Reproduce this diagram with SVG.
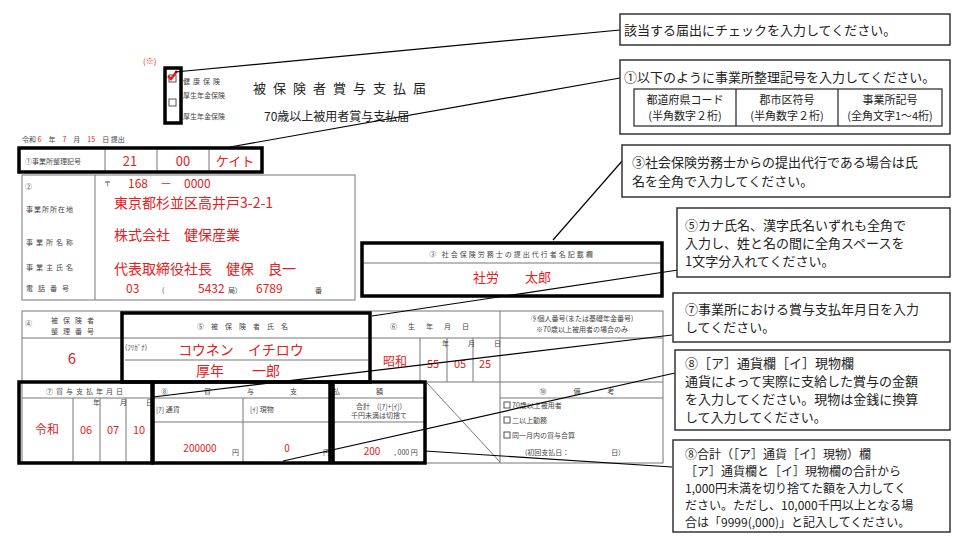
<svg xmlns="http://www.w3.org/2000/svg" width="960" height="540" viewBox="0 0 960 540">
<style>
text{font-family:"Noto Sans CJK JP","Liberation Sans",sans-serif;fill:#222}
.s{font-size:7px;fill:#444}
.r{fill:#e62020}
.c{font-size:13px}
.thin{fill:none;stroke:#777;stroke-width:1}
.thick{fill:none;stroke:#000;stroke-width:3.5}
.box{fill:#fff;stroke:#333;stroke-width:1.5}
.ln{stroke:#000;stroke-width:1.2;fill:none}
.cb{fill:#fff;stroke:#555;stroke-width:1}
</style>
<rect width="960" height="540" fill="#fff"/>
<g id="header">
<text x="143" y="64" class="r" font-size="8">(※)</text>
<rect x="165" y="68" width="16" height="55" class="thick"/>
<rect x="169" y="75" width="7" height="7" class="cb"/>
<rect x="169" y="99" width="7" height="7" class="cb"/>
<path d="M168 76 l3 3 l6 -8" stroke="#e62020" stroke-width="2.5" fill="none"/>
<text x="183" y="84" class="s" font-size="8" letter-spacing="3">健康保険</text>
<text x="183" y="98" class="s" font-size="8">厚生年金保険</text>
<text x="183" y="119" class="s" font-size="8">厚生年金保険</text>
<text x="253" y="93" font-size="13" letter-spacing="7">被保険者賞与支払届</text>
<text x="264" y="121" font-size="12">70歳以上被用者賞与支払届</text>
<text x="22" y="142" class="s">令和 <tspan class="r">6</tspan>　年　<tspan class="r">7</tspan>　月　<tspan class="r">15</tspan>　日 提出</text>
</g>
<g id="office-code">
<rect x="19" y="148" width="243" height="24" class="thin"/>
<path d="M105 148v24M157 148v24M209 148v24" class="thin"/>
<text x="25" y="164" class="s" font-size="8">①事業所整理記号</text>
<text x="130" y="166" class="r c" text-anchor="middle">21</text>
<text x="183" y="166" class="r c" text-anchor="middle">00</text>
<text x="235" y="166" class="r c" text-anchor="middle">ケイト</text>
<rect x="19" y="148" width="243" height="24" class="thick"/>
</g>
<g id="office-info">
<rect x="22" y="175" width="333" height="125" class="thin"/>
<path d="M95 175v125" class="thin"/>
<text x="25" y="189" class="s" font-size="9">②</text>
<text x="26" y="212" class="s" letter-spacing="1">事業所所在地</text>
<text x="26" y="245" class="s" letter-spacing="3">事業所名称</text>
<text x="26" y="270" class="s" letter-spacing="3">事業主氏名</text>
<text x="26" y="291" class="s" letter-spacing="5">電話番号</text>
<text x="104" y="186" class="s">〒</text>
<text x="128" y="188" class="r" font-size="12">168　－　0000</text>
<text x="114" y="208" class="r" font-size="14">東京都杉並区高井戸3-2-1</text>
<text x="114" y="240" class="r" font-size="14">株式会社　健保産業</text>
<text x="114" y="274" class="r" font-size="14">代表取締役社長　健保　良一</text>
<text x="126" y="293" class="r" font-size="12">03</text>
<text x="162" y="293" class="s">(</text>
<text x="198" y="293" class="r" font-size="12">5432</text>
<text x="228" y="293" class="s">局)</text>
<text x="256" y="293" class="r" font-size="12">6789</text>
<text x="315" y="293" class="s">番</text>
</g>
<g id="agent">
<rect x="362" y="243" width="300" height="53" class="thin"/>
<path d="M362 263h300" class="thin"/>
<text x="512" y="257" class="s" text-anchor="middle" letter-spacing="2">③ 社会保険労務士の提出代行者名記載欄</text>
<text x="512" y="282" class="r c" text-anchor="middle">社労　　太郎</text>
<rect x="362" y="243" width="300" height="53" class="thick"/>
</g>
<g id="insured">
<rect x="22" y="311" width="641" height="152" class="thin"/>
<path d="M22 338h641M122 311v71M370 311v71M500 311v152M22 382h641M420 338v44M447 338v44M473 338v44M125 360h243" class="thin"/>
<text x="25" y="326" class="s" font-size="8">④</text>
<text x="75" y="323" class="s" text-anchor="middle" letter-spacing="5">被保険者</text>
<text x="75" y="334" class="s" text-anchor="middle" letter-spacing="5">整理番号</text>
<text x="72" y="364" class="r" font-size="15" text-anchor="middle">6</text>
<text x="246" y="329" class="s" text-anchor="middle" letter-spacing="7">⑤被保険者氏名</text>
<text x="125" y="350" class="s" font-size="6">(ﾌﾘｶﾞﾅ)</text>
<text x="241" y="355" class="r" font-size="14" text-anchor="middle">コウネン　イチロウ</text>
<text x="238" y="376" class="r" font-size="14" text-anchor="middle">厚年　　一郎</text>
<text x="435" y="329" class="s" text-anchor="middle" letter-spacing="11">⑥生年月日</text>
<text x="395" y="366" class="r" font-size="12" text-anchor="middle">昭和</text>
<text x="442" y="346" class="s" font-size="5">年</text><text x="468" y="346" class="s" font-size="5">月</text><text x="494" y="346" class="s" font-size="5">日</text>
<text x="433" y="368" class="r" font-size="11" text-anchor="middle">55</text>
<text x="460" y="368" class="r" font-size="11" text-anchor="middle">05</text>
<text x="485" y="368" class="r" font-size="11" text-anchor="middle">25</text>
<text x="582" y="321" class="s" text-anchor="middle">⑨個人番号(または基礎年金番号)</text>
<text x="582" y="332" class="s" text-anchor="middle">※70歳以上被用者の場合のみ</text>
<path d="M22 398h403M73 398v65M100 398v65M126 398v65M153 422h177M243 398v65M330 398v65M333 422h92M425 382v81M500 398h163M427 383L500 462" class="thin"/>
<text x="86" y="394" class="s" text-anchor="middle" letter-spacing="3">⑦賞与支払年月日</text>
<text x="93" y="405" class="s" font-size="5">年</text><text x="120" y="405" class="s" font-size="5">月</text><text x="146" y="405" class="s" font-size="5">日</text>
<text x="47" y="434" class="r" font-size="12" text-anchor="middle">令和</text>
<text x="86" y="434" class="r" font-size="11" text-anchor="middle">06</text>
<text x="113" y="434" class="r" font-size="11" text-anchor="middle">07</text>
<text x="139" y="434" class="r" font-size="11" text-anchor="middle">10</text>
<text x="290" y="394" class="s" text-anchor="middle" letter-spacing="36">⑧賞与支払額</text>
<text x="156" y="412" class="s">[ｱ] 通貨</text>
<text x="250" y="412" class="s">[ｲ] 現物</text>
<text x="200" y="452" class="r" font-size="10" text-anchor="middle">200000</text>
<text x="232" y="455" class="s">円</text>
<text x="287" y="452" class="r" font-size="10" text-anchor="middle">0</text>
<text x="323" y="455" class="s">円</text>
<text x="379" y="409" class="s" text-anchor="middle">合計　([ｱ]+[ｲ])</text>
<text x="379" y="418" class="s" font-size="5" text-anchor="middle">千円未満は切捨て</text>
<text x="372" y="455" class="r" font-size="10" text-anchor="middle">200</text>
<text x="394" y="455" class="s">, 000 円</text>
<text x="582" y="394" class="s" text-anchor="middle" letter-spacing="10">⑩　備　考</text>
<rect x="504" y="402" width="6" height="6" class="cb"/><text x="512" y="408" class="s">70歳以上被用者</text>
<rect x="504" y="417" width="6" height="6" class="cb"/><text x="512" y="423" class="s">二以上勤務</text>
<rect x="504" y="432" width="6" height="6" class="cb"/><text x="512" y="438" class="s">同一月内の賞与合算</text>
<text x="525" y="455" class="s">(初回支払日：　　　　　　日)</text>
<rect x="19" y="382" width="133" height="81" class="thick"/>
<rect x="153" y="382" width="177" height="81" class="thick"/>
<rect x="333" y="382" width="92" height="81" class="thick"/>
<rect x="122" y="313" width="248" height="69" class="thick"/>
</g>
<g id="connectors" class="ln">
<path d="M175 72L620 30"/>
<path d="M230 147L620 78"/>
<path d="M553 240L623 160"/>
<path d="M372 316L678 270"/>
<path d="M153 397L672 335"/>
<path d="M283 461L675 373"/>
<path d="M425 451L672 467"/>
</g>
<g id="note-check"><rect x="620" y="14" width="330" height="31" class="box"/><text x="624" y="35" font-size="13">該当する届出にチェックを入力してください。</text></g>
<g id="note-1"><rect x="620" y="60" width="330" height="74" class="box"/><text x="624" y="82" font-size="13">①以下のように事業所整理記号を入力してください。</text>
<rect x="634" y="89" width="308" height="37" fill="none" stroke="#222" stroke-width="1.2"/><path d="M736 89v37M838 89v37" stroke="#222" stroke-width="1.2"/>
<g font-size="11" text-anchor="middle"><text x="685" y="104">都道府県コード</text><text x="685" y="120">(半角数字２桁)</text><text x="787" y="104">郡市区符号</text><text x="787" y="120">(半角数字２桁)</text><text x="890" y="104">事業所記号</text><text x="890" y="120">(全角文字1～4桁)</text></g></g>
<g id="note-3"><rect x="622" y="145" width="328" height="52" class="box"/><text x="632" y="167" font-size="13">③社会保険労務士からの提出代行である場合は氏</text><text x="632" y="186" font-size="13">名を全角で入力してください。</text></g>
<g id="note-5"><rect x="677" y="208" width="273" height="69" class="box"/><text x="685" y="230" font-size="13">⑤カナ氏名、漢字氏名いずれも全角で</text><text x="685" y="248" font-size="13">入力し、姓と名の間に全角スペースを</text><text x="685" y="266" font-size="13">1文字分入れてください。</text></g>
<g id="note-7"><rect x="673" y="293" width="277" height="49" class="box"/><text x="685" y="314" font-size="13">⑦事業所における賞与支払年月日を入力</text><text x="685" y="332" font-size="13">してください。</text></g>
<g id="note-8a"><rect x="675" y="350" width="275" height="80" class="box"/><text x="685" y="368" font-size="13">⑧［ア］通貨欄［イ］現物欄</text><text x="685" y="386" font-size="13">通貨によって実際に支給した賞与の金額</text><text x="685" y="404" font-size="13">を入力してください。現物は金銭に換算</text><text x="685" y="422" font-size="13">して入力してください。</text></g>
<g id="note-8b" font-size="12"><rect x="673" y="440" width="277" height="92" class="box"/><text x="685" y="459">⑧合計（［ア］通貨［イ］現物）欄</text><text x="685" y="476">［ア］通貨欄と［イ］現物欄の合計から</text><text x="685" y="493">1,000円未満を切り捨てた額を入力してく</text><text x="685" y="510">ださい。ただし、10,000千円以上となる場</text><text x="685" y="527">合は「9999(,000)」と記入してください。</text></g>
</svg>
